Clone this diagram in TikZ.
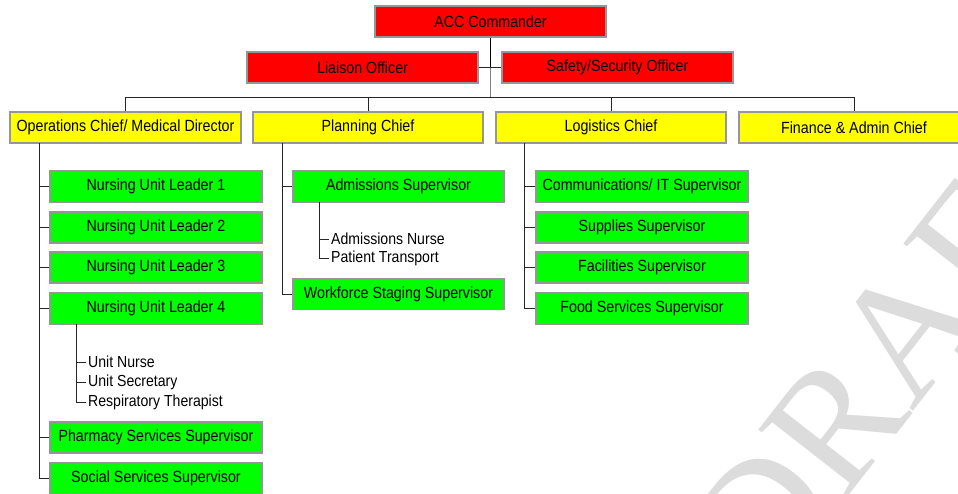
\documentclass[tikz,border=0pt]{standalone}
\usepackage{fontspec}
\setmainfont[FakeStretch=0.88]{Liberation Sans}
\newfontfamily\wmfont{Liberation Serif}
\definecolor{boxred}{HTML}{FF0000}
\definecolor{boxyellow}{HTML}{FFFF00}
\definecolor{boxgreen}{HTML}{00FF00}
\definecolor{boxedge}{HTML}{969696}
\definecolor{wmgray}{HTML}{DCDCDC}
\definecolor{lineg}{HTML}{7F7F7F}
\begin{document}
\begin{tikzpicture}[x=1pt,y=-1pt,
  base/.style={draw=boxedge, line width=1.2pt, inner sep=0pt, minimum height=31pt,
    font=\fontsize{16.2}{18}\selectfont, text=black},
  redbox/.style={base, fill=boxred, minimum width=231pt},
  yelbox/.style={base, fill=boxyellow, minimum width=230pt},
  grnbox/.style={base, fill=boxgreen, minimum width=212pt},
  subtxt/.style={anchor=west, inner sep=2pt, font=\fontsize{16}{18}\selectfont},
  conn/.style={draw=black!85, line width=1pt}]
\useasboundingbox (0,0) rectangle (958,493);
\clip (0,0) rectangle (958,493);
\fill[white] (0,0) rectangle (958,493);
% watermark
\node[rotate=52, text=wmgray, font=\wmfont\fontsize{170}{170}\selectfont, inner sep=0pt] (wm) at (895,345) {DRAFT};
% top
\node[redbox] (acc) at (490.5,21.5) {ACC Commander};
\node[redbox] (liaison) at (362.5,67.5) {Liaison Officer};
\node[redbox] (safety) at (617.5,67.5) {Safety/Security Officer};
% chiefs
\node[yelbox, minimum width=231pt] (ops) at (125.5,127.5) {Operations Chief/ Medical Director};
\node[yelbox] (plan) at (368,127.5) {Planning Chief};
\node[yelbox] (log) at (611,127.5) {Logistics Chief};
\node[yelbox] (fin) at (854,127.5) {Finance \& Admin Chief};
% ops
\node[grnbox] (nul1) at (156,186.5) {Nursing Unit Leader 1};
\node[grnbox] (nul2) at (156,227.5) {Nursing Unit Leader 2};
\node[grnbox] (nul3) at (156,267.5) {Nursing Unit Leader 3};
\node[grnbox] (nul4) at (156,308.5) {Nursing Unit Leader 4};
\node[grnbox] (pharm) at (156,437.5) {Pharmacy Services Supervisor};
\node[grnbox] (soc) at (156,478.5) {Social Services Supervisor};
\node[subtxt] (un) at (86,362) {Unit Nurse};
\node[subtxt] (us) at (86,382) {Unit Secretary};
\node[subtxt] (rt) at (86,402) {Respiratory Therapist};
% planning
\node[grnbox, minimum width=211pt] (adm) at (398.5,186.5) {Admissions Supervisor};
\node[grnbox, minimum width=211pt] (wf) at (398.5,294) {Workforce Staging Supervisor};
\node[subtxt] (an) at (329,239) {Admissions Nurse};
\node[subtxt] (pt) at (329,258) {Patient Transport};
% logistics
\node[grnbox] (com) at (642,186.5) {Communications/ IT Supervisor};
\node[grnbox] (sup) at (642,227.5) {Supplies Supervisor};
\node[grnbox] (fac) at (642,267.5) {Facilities Supervisor};
\node[grnbox] (food) at (642,308.5) {Food Services Supervisor};
% coordinates
\coordinate (hb) at (490.5,97);
\coordinate (opsT) at (39,143);
\coordinate (planT) at (282,143);
\coordinate (logT) at (524,143);
\coordinate (n4T) at (76,324);
\coordinate (admT) at (319,202);
% connectors
\draw[conn, draw=black] (acc.south) -- (acc.south |- liaison.east);
\draw[conn, draw=lineg] (acc.south |- liaison.east) -- (hb);
\draw[conn] (liaison.east) -- (safety.west);
\draw[conn] (ops.north) -- (ops.north |- hb) -- (fin.north |- hb) -- (fin.north);
\draw[conn] (plan.north) -- (plan.north |- hb);
\draw[conn] (log.north) -- (log.north |- hb);
% ops branches
\draw[conn] (opsT) |- (soc.west);
\foreach \n in {nul1,nul2,nul3,nul4,pharm}{\draw[conn] (\n.west) -- (\n.west -| opsT);}
\draw[conn] (n4T) |- (rt.west);
\draw[conn] (un.west) -- (un.west -| n4T);
\draw[conn] (us.west) -- (us.west -| n4T);
% planning branches
\draw[conn] (planT) |- (wf.west);
\draw[conn] (adm.west) -- (adm.west -| planT);
\draw[conn] (admT) |- (pt.west);
\draw[conn] (an.west) -- (an.west -| admT);
% logistics branches
\draw[conn] (logT) |- (food.west);
\foreach \n in {com,sup,fac}{\draw[conn] (\n.west) -- (\n.west -| logT);}
\end{tikzpicture}
\end{document}
